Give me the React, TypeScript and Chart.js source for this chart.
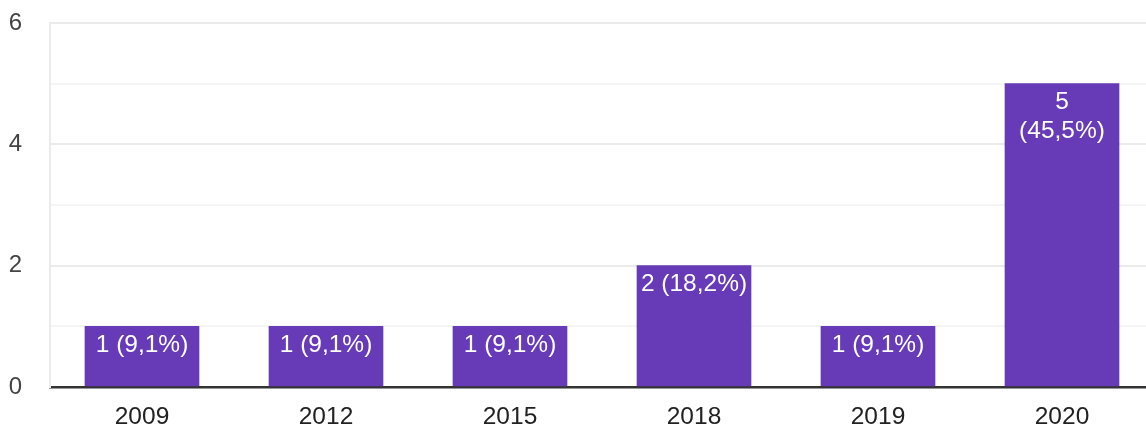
import React, { useEffect, useRef } from "react";
import { Chart, registerables } from "chart.js";

Chart.register(...registerables);

const categories = ["2009", "2012", "2015", "2018", "2019", "2020"];
const counts = [1, 1, 1, 2, 1, 5];
const barLabels: string[][] = [
  ["1 (9,1%)"],
  ["1 (9,1%)"],
  ["1 (9,1%)"],
  ["2 (18,2%)"],
  ["1 (9,1%)"],
  ["5", "(45,5%)"],
];
const yTicks = [0, 2, 4, 6];

const FONT = "'Liberation Sans', Arial, sans-serif";

const labelPlugin = {
  id: "barLabels",
  afterDatasetsDraw(chart: any) {
    const ctx = chart.ctx;
    const meta = chart.getDatasetMeta(0);
    ctx.save();
    ctx.fillStyle = "#ffffff";
    ctx.font = `24.5px ${FONT}`;
    ctx.textAlign = "center";
    ctx.textBaseline = "middle";
    meta.data.forEach((bar: any, i: number) => {
      const lines = barLabels[i];
      lines.forEach((line, j) => {
        ctx.fillText(line, bar.x, bar.y + 18.5 + j * 29.5);
      });
    });
    ctx.restore();
  },
};

export default function App() {
  const ref = useRef<HTMLCanvasElement>(null);
  useEffect(() => {
    document.body.style.margin = "0";
    document.body.style.overflow = "hidden";
    const chart = new Chart(ref.current!, {
      type: "bar",
      data: {
        labels: categories,
        datasets: [
          {
            data: counts,
            backgroundColor: "#673ab7",
            barThickness: 114,
          },
        ],
      },
      options: {
        animation: false,
        responsive: false,
        maintainAspectRatio: false,
        layout: { padding: { top: 23, right: 0, left: 0, bottom: 0 } },
        plugins: { legend: { display: false }, tooltip: { enabled: false } },
        scales: {
          x: {
            grid: { display: false, drawTicks: false },
            border: { color: "#333333", width: 2.5 },
            ticks: {
              color: "#222222",
              font: { family: FONT, size: 24.5 },
              padding: 15.5,
            },
            afterFit: (s: any) => {
              s.height = 38;
              s.paddingLeft = 0;
              s.paddingRight = 0;
            },
          },
          y: {
            min: 0,
            max: 6,
            ticks: {
              stepSize: 1,
              color: "#444444",
              font: { family: FONT, size: 24 },
              padding: 28,
              callback: (v: any) => (yTicks.includes(Number(v)) ? String(v) : ""),
            },
            grid: {
              drawTicks: false,
              color: (c: any) => (Number(c.tick?.value) % 2 === 0 ? "#ebebeb" : "#f5f5f5"),
              lineWidth: 2,
            },
            border: { color: "#ebebeb", width: 2 },
            afterFit: (s: any) => {
              s.width = 50;
              s.paddingTop = 0;
              s.paddingBottom = 0;
            },
          },
        },
      },
      plugins: [labelPlugin],
    });
    return () => chart.destroy();
  }, []);
  return (
    <div style={{ width: 1146, height: 425, overflow: "hidden" }}>
      <canvas ref={ref} width={1154} height={425} style={{ display: "block" }} />
    </div>
  );
}
